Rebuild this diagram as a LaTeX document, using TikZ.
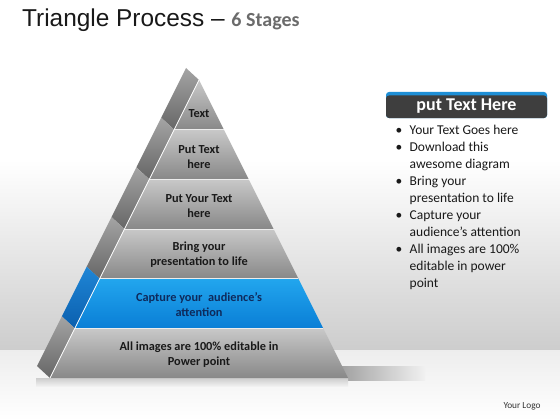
\documentclass[tikz,border=0pt]{standalone}
\usepackage{fontspec}
\setmainfont{Carlito}
\newfontfamily\arialfont{Liberation Sans}
\usetikzlibrary{positioning}
\definecolor{wallgray}{HTML}{CDCDCD}
\definecolor{floorgray}{HTML}{EDEDED}
\definecolor{floormid}{HTML}{F1F1F1}
\definecolor{shadowgray}{HTML}{A0A0A0}
\definecolor{tiertop}{HTML}{C8C8C8}
\definecolor{tierbot}{HTML}{888888}
\definecolor{sidetop}{HTML}{A4A4A4}
\definecolor{sidebot}{HTML}{666666}
\definecolor{bluetop}{HTML}{22A6EE}
\definecolor{bluebot}{HTML}{0A7ED6}
\definecolor{bsidetop}{HTML}{1F86D6}
\definecolor{bsidebot}{HTML}{0B5FAE}
\definecolor{headgray}{HTML}{3E3E3E}
\definecolor{headblue}{HTML}{1E8FD6}
\definecolor{titlegray}{HTML}{6B6B6B}
\definecolor{labelnavy}{HTML}{0E2A5C}
\tikzset{
  gray tier/.style={top color=tiertop,bottom color=tierbot},
  blue tier/.style={top color=bluetop,bottom color=bluebot},
  gray side/.style={top color=sidetop,bottom color=sidebot},
  blue side/.style={top color=bsidetop,bottom color=bsidebot},
  gray label/.style={text=black!90},
  blue label/.style={text=labelnavy},
  tierlabel/.style={align=center,inner sep=0pt,font=\fontsize{12.3}{15}\bfseries\selectfont},
  tierline/.style={draw=white!85!gray,line width=0.6pt}
}
\begin{document}
\begin{tikzpicture}[x=1pt,y=-1pt]
\useasboundingbox (0,0) rectangle (560,420);
\fill[white] (0,0) rectangle (560,160);
\shade[top color=white,bottom color=wallgray] (0,160) rectangle (560,350);
\shade[top color=floorgray,bottom color=white] (0,350) rectangle (560,420);
\shade[left color=shadowgray,right color=floormid] (340,366) rectangle (425,380);
\shade[top color=floormid!85!black,bottom color=floormid] (36,378) rectangle (348,386);
\coordinate (apex) at (199,80);
\coordinate (backapex) at (186,68);
\coordinate (baseleft) at (50,378);
\foreach \i/\kind/\dy/\txt in {1/gray/34/Text,2/gray/27/{Put Text\\here},3/gray/27/{Put Your Text\\here},
    4/gray/26/{Bring your\\presentation to life},5/blue/26/{Capture your\ \ audience's\\attention},
    6/gray/26/{All images are 100\% editable in\\Power point}}{
  \pgfmathsetmacro\ya{80+(\i-1)*49.67}
  \pgfmathsetmacro\yb{\ya+49.67}
  \pgfmathsetmacro\wa{0.5*(\ya-80)}
  \pgfmathsetmacro\wb{0.5*(\yb-80)}
  \shade[\kind\space side] (199-\wa,\ya) -- ++(-13,-12) -- (186-\wb,\yb-12) -- (199-\wb,\yb) -- cycle;
  \shade[\kind\space tier] (199-\wa,\ya) -- (199+\wa,\ya) -- (199+\wb,\yb) -- (199-\wb,\yb) -- cycle;
  \ifnum\i>1 \draw[tierline] (199-\wa,\ya) -- (199+\wa,\ya); \fi
  \node[tierlabel,\kind\space label] (tier\i) at (199,\ya+\dy) {\txt};
}
\draw[white,line width=0.7pt] (apex) -- (baseleft);
\fill[headblue,rounded corners=3pt] (386,92) rectangle (547,118);
\fill[headgray,rounded corners=3pt] (386,95.5) rectangle (547,118);
\node[text=white,font=\fontsize{18}{20}\bfseries\selectfont] (head) at (466.5,106.5) {put Text Here};
\node[anchor=base west,inner sep=0pt,font=\fontsize{13.5}{17}\selectfont,text=black!90] (bullets) at (395.5,135)
  {\begin{tabular}[t]{@{}p{14pt}@{}l@{}}
  \textbullet & Your Text Goes here\\
  \textbullet & Download this\\
  & awesome diagram\\
  \textbullet & Bring your\\
  & presentation to life\\
  \textbullet & Capture your\\
  & audience's attention\\
  \textbullet & All images are 100\%\\
  & editable in power\\
  & point
  \end{tabular}};
\node[anchor=base west,inner sep=0pt,text=black!90] (title) at (22,27)
  {\arialfont\fontsize{24.4}{28}\selectfont Triangle Process \textendash\
   {\setmainfont{Carlito}\fontsize{20}{24}\bfseries\selectfont\color{titlegray}6 Stages}};
\node[font=\fontsize{9.3}{11}\selectfont,text=black!80] (logo) at (522,406) {Your Logo};
\end{tikzpicture}
\end{document}
